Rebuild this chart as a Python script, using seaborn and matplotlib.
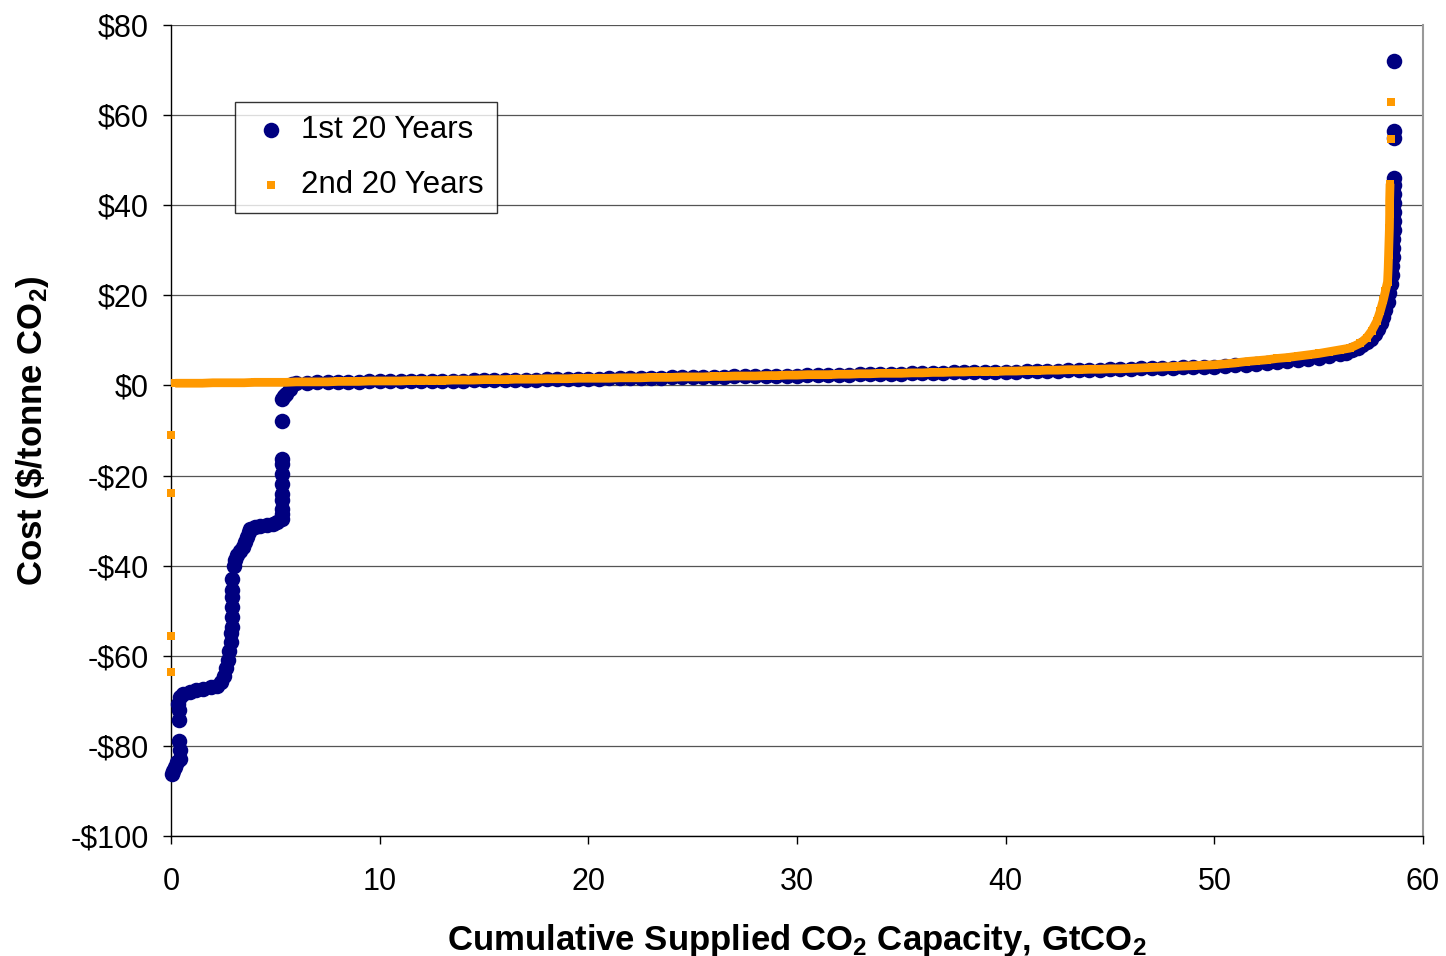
import matplotlib
matplotlib.use("Agg")
import matplotlib.pyplot as plt
import seaborn as sns
import pandas as pd
from matplotlib.ticker import FuncFormatter

# ---------------- data ----------------
series_names = ["1st 20 Years", "2nd 20 Years"]

first_x = [0.03, 0.1, 0.19, 0.3, 0.43, 0.43, 0.4, 0.4, 0.37, 0.35, 0.45, 0.59, 0.9, 1.2, 1.55,
           1.9, 2.2, 2.4, 2.55, 2.65, 2.75, 2.8, 2.85, 2.88, 2.9, 2.92, 2.93, 2.93, 2.93, 2.93,
           3.0, 3.05, 3.15, 3.3, 3.47, 3.55, 3.63, 3.72, 3.79, 4.0, 4.26, 4.6, 4.9, 5.1, 5.3,
           5.3, 5.3, 5.3, 5.3, 5.3, 5.3, 5.3, 5.3, 5.3, 5.3, 5.4, 5.5, 5.7, 5.8,
           6.0, 6.5, 7.0, 7.5, 8.0, 8.5, 9.0, 9.5, 10.0, 10.5, 11.0, 11.5, 12.0, 12.5, 13.0,
           13.5, 14.0, 14.5, 15.0, 15.5, 16.0, 16.5, 17.0, 17.5, 18.0, 18.5, 19.0, 19.5, 20.0,
           20.5, 21.0, 21.5, 22.0, 22.5, 23.0, 23.5, 24.0, 24.5, 25.0, 25.5, 26.0, 26.5, 27.0,
           27.5, 28.0, 28.5, 29.0, 29.5, 30.0, 30.5, 31.0, 31.5, 32.0, 32.5, 33.0, 33.5, 34.0,
           34.5, 35.0, 35.5, 36.0, 36.5, 37.0, 37.5, 38.0, 38.5, 39.0, 39.5, 40.0, 40.5, 41.0,
           41.5, 42.0, 42.5, 43.0, 43.5, 44.0, 44.5, 45.0, 45.5, 46.0, 46.5, 47.0, 47.5, 48.0,
           48.5, 49.0, 49.5, 50.0, 50.5, 51.0, 51.5, 52.0, 52.5, 53.0, 53.5, 54.0, 54.5, 55.0,
           55.5, 56.0, 56.3, 56.6, 56.9, 57.1, 57.3, 57.5, 57.7, 57.85, 58.0, 58.1, 58.2, 58.3,
           58.38, 58.45, 58.5, 58.53, 58.55, 58.57, 58.58, 58.59, 58.6, 58.6, 58.6, 58.6, 58.62,
           58.62, 58.62, 58.62, 58.62]
first_y = [-86.2, -85.5, -84.7, -83.5, -83.0, -81.0, -78.8, -74.3, -72.1, -70.6, -69.2, -68.4,
           -68.0, -67.7, -67.3, -66.9, -66.6, -65.8, -64.5, -62.8, -61.0, -59.0, -57.0, -55.0,
           -53.6, -51.4, -49.2, -47.0, -45.5, -42.9, -40.0, -38.8, -37.7, -36.8, -35.9, -34.8,
           -33.7, -32.5, -31.8, -31.4, -31.1, -30.9, -30.7, -30.4, -29.6, -28.5, -27.4, -25.5,
           -24.0, -21.8, -19.6, -17.4, -16.3, -7.8, -2.9, -2.4, -1.8, -0.7, 0.3,
           0.6, 0.6, 0.7, 0.7, 0.8, 0.8, 0.8, 0.9, 0.9, 0.9, 1.0, 1.0, 1.0, 1.0, 1.1,
           1.1, 1.1, 1.2, 1.2, 1.2, 1.3, 1.3, 1.3, 1.3, 1.4, 1.4, 1.4, 1.5, 1.5,
           1.5, 1.6, 1.6, 1.6, 1.7, 1.7, 1.7, 1.8, 1.8, 1.8, 1.9, 1.9, 1.9, 2.0,
           2.0, 2.1, 2.1, 2.1, 2.2, 2.2, 2.3, 2.3, 2.4, 2.4, 2.4, 2.5, 2.5, 2.6,
           2.6, 2.6, 2.7, 2.7, 2.8, 2.8, 2.9, 2.9, 3.0, 3.0, 3.0, 3.1, 3.1, 3.2,
           3.2, 3.3, 3.3, 3.4, 3.4, 3.5, 3.5, 3.6, 3.6, 3.7, 3.8, 3.8, 3.9, 3.9,
           4.0, 4.1, 4.2, 4.2, 4.4, 4.5, 4.6, 4.8, 5.0, 5.2, 5.4, 5.6, 5.9, 6.2,
           6.6, 7.0, 7.3, 7.8, 8.4, 9.0, 9.6, 10.4, 11.4, 12.5, 13.8, 15.2, 16.8, 18.5,
           20.5, 22.5, 24.5, 26.5, 28.5, 30.5, 32.5, 34.5, 36.5, 38.5, 40.5, 42.5, 44.5,
           46.0, 55.0, 56.5, 72.0]

# 2nd 20 years: isolated low-cost points near zero capacity
second_low_x = [0.02, 0.02, 0.02, 0.02]
second_low_y = [-11.0, -23.8, -55.5, -63.7]
# 2nd 20 years: main supply curve
second_x = [0.2, 0.5, 1.0, 1.5, 2.0, 2.5, 3.0, 3.5, 4.0, 4.5, 5.0, 5.5, 6.0, 6.5, 7.0, 7.5,
            8.0, 8.5, 9.0, 9.5, 10.0, 10.5, 11.0, 11.5, 12.0, 12.5, 13.0, 13.5, 14.0, 14.5,
            15.0, 15.5, 16.0, 16.5, 17.0, 17.5, 18.0, 18.5, 19.0, 19.5, 20.0, 20.5, 21.0,
            21.5, 22.0, 22.5, 23.0, 23.5, 24.0, 24.5, 25.0, 25.5, 26.0, 26.5, 27.0, 27.5,
            28.0, 28.5, 29.0, 29.5, 30.0, 30.5, 31.0, 31.5, 32.0, 32.5, 33.0, 33.5, 34.0,
            34.5, 35.0, 35.5, 36.0, 36.5, 37.0, 37.5, 38.0, 38.5, 39.0, 39.5, 40.0, 40.5,
            41.0, 41.5, 42.0, 42.5, 43.0, 43.5, 44.0, 44.5, 45.0, 45.5, 46.0, 46.5, 47.0,
            47.5, 48.0, 48.5, 49.0, 49.5, 50.0, 50.5, 51.0, 51.5, 52.0, 52.5, 53.0, 53.5,
            54.0, 54.5, 55.0, 55.5, 56.0, 56.5, 57.0, 57.3, 57.55, 57.8, 57.95, 58.1, 58.2,
            58.3, 58.33, 58.35, 58.37, 58.39, 58.4, 58.4, 58.42]
second_y = [0.5, 0.5, 0.5, 0.5, 0.6, 0.6, 0.6, 0.6, 0.7, 0.7, 0.7, 0.7, 0.8, 0.8, 0.8, 0.8,
            0.9, 0.9, 0.9, 1.0, 1.0, 1.0, 1.0, 1.1, 1.1, 1.1, 1.1, 1.2, 1.2, 1.2,
            1.3, 1.3, 1.3, 1.4, 1.4, 1.4, 1.5, 1.5, 1.5, 1.6, 1.6, 1.6, 1.6,
            1.7, 1.7, 1.7, 1.8, 1.8, 1.8, 1.9, 1.9, 1.9, 2.0, 2.0, 2.1, 2.1,
            2.1, 2.2, 2.2, 2.3, 2.3, 2.4, 2.4, 2.4, 2.5, 2.5, 2.6, 2.6, 2.7,
            2.7, 2.7, 2.8, 2.8, 2.9, 2.9, 3.0, 3.0, 3.1, 3.1, 3.1, 3.2, 3.2,
            3.3, 3.3, 3.4, 3.4, 3.5, 3.5, 3.6, 3.6, 3.7, 3.7, 3.8, 3.9, 4.0,
            4.1, 4.2, 4.3, 4.4, 4.5, 4.6, 4.8, 5.0, 5.3, 5.5, 5.7, 6.0, 6.2,
            6.5, 6.8, 7.1, 7.5, 7.9, 8.3, 9.4, 10.6, 12.2, 14.4, 16.5, 19.0, 21.0,
            23.0, 26.0, 29.0, 32.0, 35.0, 38.0, 41.0, 44.8]
second_top_x = [58.45, 58.45]
second_top_y = [54.6, 63.0]

x_ticks = [0, 10, 20, 30, 40, 50, 60]
y_ticks = [-100, -80, -60, -40, -20, 0, 20, 40, 60, 80]

# ---------------- styling ----------------
sns.set_style("white")
plt.rcParams["font.family"] = ["Liberation Sans", "DejaVu Sans"]
plt.rcParams["mathtext.default"] = "regular"
plt.rcParams["text.color"] = "black"
plt.rcParams["axes.labelcolor"] = "black"

navy = "#000080"
orange = "#FF9900"

fig, ax = plt.subplots(figsize=(14.46, 9.56), dpi=100)
fig.subplots_adjust(left=0.1183, right=0.9841, top=0.9738, bottom=0.1255)

df1 = pd.DataFrame({"x": first_x, "y": first_y})
df2 = pd.DataFrame({"x": second_x, "y": second_y})
df2_iso = pd.DataFrame({"x": second_low_x + second_top_x, "y": second_low_y + second_top_y})

sns.scatterplot(data=df1, x="x", y="y", ax=ax, color=navy, marker="o", s=125,
                linewidth=0, label=series_names[0], zorder=3, clip_on=False)
sns.lineplot(data=df2, x="x", y="y", ax=ax, color=orange, linewidth=6.3, sort=False,
             estimator=None, zorder=4, solid_capstyle="butt")
sns.scatterplot(data=df2, x="x", y="y", ax=ax, color=orange, marker="s", s=40,
                linewidth=0, label=series_names[1], zorder=4, clip_on=False)
sns.scatterplot(data=df2_iso, x="x", y="y", ax=ax, color=orange, marker="s", s=40,
                linewidth=0, zorder=4, clip_on=False)

ax.set_xlim(0, 60)
ax.set_ylim(-100, 80)
ax.set_xticks(x_ticks)
ax.set_yticks(y_ticks)
ax.yaxis.set_major_formatter(FuncFormatter(lambda v, p: ("-$%d" % abs(v)) if v < 0 else ("$%d" % v)))
ax.xaxis.set_major_formatter(FuncFormatter(lambda v, p: "%d" % v))

ax.grid(axis="y", color="#555555", linewidth=0.9)
ax.grid(axis="x", visible=False)
ax.set_axisbelow(True)

for side in ["left", "bottom"]:
    ax.spines[side].set_color("black")
    ax.spines[side].set_linewidth(1.0)
ax.spines["top"].set_visible(False)
ax.spines["right"].set_color("#999999")
ax.spines["right"].set_linewidth(1.5)

ax.tick_params(axis="both", which="major", direction="out", length=6, width=1,
               color="black", labelsize=22, labelcolor="black")
ax.tick_params(axis="y", pad=10, left=True)
ax.tick_params(axis="x", pad=16, bottom=True)

ax.set_xlabel("Cumulative Supplied CO$_2$ Capacity, GtCO$_2$", fontsize=25,
              fontweight="bold", labelpad=18, color="black")
ax.set_ylabel("Cost (\\$/tonne CO$_2$)", fontsize=25, fontweight="bold", labelpad=14,
              color="black")

leg = ax.legend(loc="upper left", bbox_to_anchor=(0.051, 0.905), borderaxespad=0,
                fontsize=22.5, frameon=True, fancybox=False, shadow=False,
                handletextpad=0.2, labelspacing=0.8, borderpad=0.42, handlelength=1.5)
leg.get_frame().set_edgecolor("black")
leg.get_frame().set_linewidth(1.0)
leg.get_frame().set_facecolor("white")
for t in leg.get_texts():
    t.set_color("black")

fig.savefig("out.png", dpi=100)
